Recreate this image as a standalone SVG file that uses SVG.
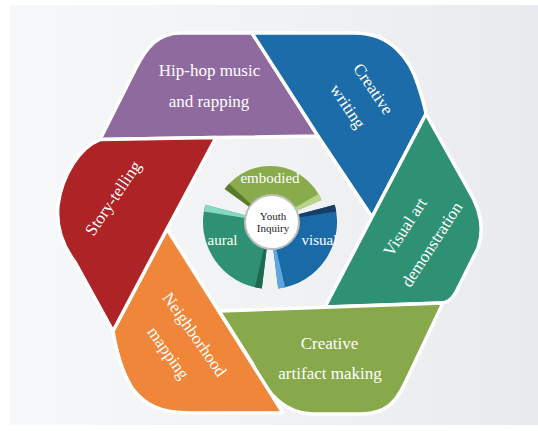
<svg xmlns="http://www.w3.org/2000/svg" width="538" height="431" viewBox="0 0 538 431">
<defs>
<linearGradient id="bg" x1="0" y1="0" x2="1" y2="0">
<stop offset="0" stop-color="#f7f8f9"/>
<stop offset="0.6" stop-color="#f0f1f3"/>
<stop offset="1" stop-color="#e8eaed"/>
</linearGradient>
<style>
.piece{stroke:#ffffff;stroke-width:3.5;stroke-linejoin:round}
.lbl{font-family:"Liberation Serif","Times New Roman",serif;font-size:17px;fill:#ffffff;text-anchor:middle}
.wl{font-family:"Liberation Serif","Times New Roman",serif;font-size:15px;fill:#ffffff;text-anchor:middle}
.cl{font-family:"Liberation Serif","Times New Roman",serif;font-size:11px;fill:#222222;text-anchor:middle}
</style>
</defs>
<rect x="0" y="0" width="538" height="431" fill="#ffffff"/>
<rect x="10" y="5" width="528" height="420" fill="url(#bg)"/>

<g id="node-hiphop">
<path class="piece" fill="#8f6a9f" d="M252,33 L180,33 C158,33 146,48 136,68 L100,139.5 L216,137.5 L318,136 Z"/>
<text class="lbl" x="209.5" y="76">Hip-hop music</text>
<text class="lbl" x="209" y="107">and rapping</text>
</g>

<g id="node-writing">
<path class="piece" fill="#1b6ca8" d="M252,33 L355,33 C390,33 410,58 418,85 C423,100 425,108 426,114 L372,217 L318,136 Z"/>
<g transform="translate(360,98) rotate(56)">
<text class="lbl" x="0" y="-10.5">Creative</text>
<text class="lbl" x="0" y="20.5">writing</text>
</g>
</g>

<g id="node-visualart">
<path class="piece" fill="#2f9174" d="M426,114 L468,189 C480,208 485,228 478,248 L456,292 C452,299 448,303 441,303 L325,307 L372,217 Z"/>
<g transform="translate(419,236) rotate(-57)">
<text class="lbl" x="0" y="-11">Visual art</text>
<text class="lbl" x="0" y="21">demonstration</text>
</g>
</g>

<g id="node-artifact">
<path class="piece" fill="#88a94b" d="M219,311 L443,303 L405,383 C396,402 386,414 360,414 L312,414 C280,413 262,385 252,363 Z"/>
<text class="lbl" x="329.5" y="349">Creative</text>
<text class="lbl" x="330" y="379">artifact making</text>
</g>

<g id="node-neighborhood">
<path class="piece" fill="#ef8639" d="M113,331 C116,350 121,370 132,388 C145,405 160,413 190,413 L283,413 L167,229 Z"/>
<g transform="translate(181,344) rotate(55)">
<text class="lbl" x="0" y="-11">Neighborhood</text>
<text class="lbl" x="0" y="21">mapping</text>
</g>
</g>

<g id="node-storytelling">
<path class="piece" fill="#ae2325" d="M100,139.5 C80,147 62,175 58,205 C56,225 62,245 75,262 L113,331 L167,229 L216,137.5 Z"/>
<text class="lbl" transform="translate(113.5,198.5) rotate(-56)" x="0" y="5">Story-telling</text>
</g>

<g id="node-embodied">
<path fill="#8aab4b" d="M252.20,209.07 L224.70,189.08 A56,56 0 0 1 321.55,200.12 L290.25,213.40 A22,22 0 0 0 252.20,209.07 Z"/>
<path fill="#5b7a2a" d="M252.20,209.07 L224.70,189.08 A56,56 0 0 1 229.04,183.81 L253.91,207.00 Z"/>
<path fill="#b8d38a" d="M289.05,211.0 L318.50,194.0 A56,56 0 0 1 321.55,200.12 L290.25,213.40 Z"/>
<text class="wl" x="270" y="183">embodied</text>
</g>

<g id="node-aural">
<path fill="#2f9173" d="M267.32,243.84 L261.83,288.50 A67,67 0 0 1 205.28,204.66 L248.75,216.31 A22,22 0 0 0 267.32,243.84 Z"/>
<path fill="#1d6a50" d="M267.32,243.84 L261.83,288.50 A67,67 0 0 1 254.93,287.28 L265.05,243.44 Z"/>
<path fill="#86d8c0" d="M248.27,218.56 L203.83,211.52 A67,67 0 0 1 205.28,204.66 L248.75,216.31 Z"/>
<text class="wl" x="222.5" y="245">aural</text>
</g>

<g id="node-visual">
<path fill="#1b6aa8" d="M291.25,216.31 L334.72,204.66 A67,67 0 0 1 278.17,288.50 L272.68,243.84 A22,22 0 0 0 291.25,216.31 Z"/>
<path fill="#173f66" d="M291.25,216.31 L334.72,204.66 A67,67 0 0 1 336.17,211.52 L291.73,218.56 Z"/>
<path fill="#5ea8df" d="M274.95,243.44 L285.07,287.28 A67,67 0 0 1 278.17,288.50 L272.68,243.84 Z"/>
<text class="wl" x="319.5" y="245">visual</text>
</g>

<g id="node-center">
<circle cx="272" cy="222" r="27" fill="#ffffff" stroke="#bdbdbd" stroke-width="2"/>
<text class="cl" x="273" y="220">Youth</text>
<text class="cl" x="273" y="232">Inquiry</text>
</g>

<g id="connectors"/>
</svg>
